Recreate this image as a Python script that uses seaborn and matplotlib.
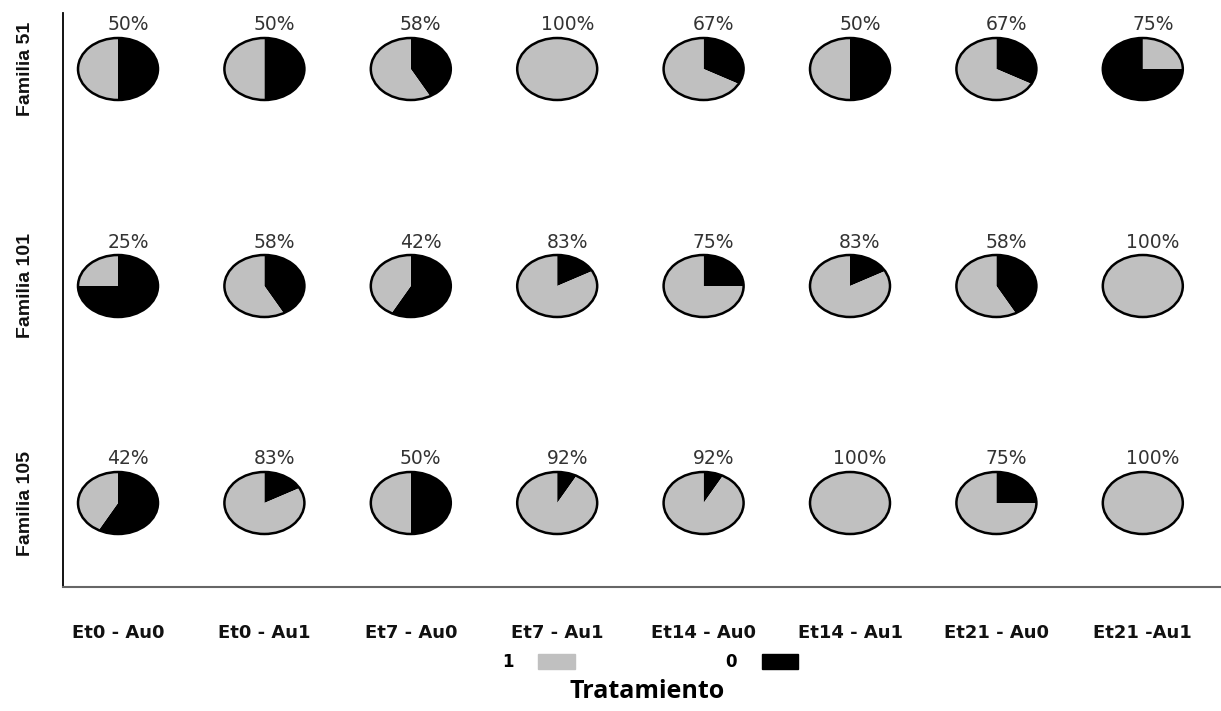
import numpy as np
import pandas as pd
import matplotlib
matplotlib.use("Agg")
import matplotlib.pyplot as plt
from matplotlib.patches import Wedge, Ellipse, Patch
from matplotlib.transforms import Affine2D
import seaborn as sns

# Datos del grafico
tratamientos = ["Et0 - Au0", "Et0 - Au1", "Et7 - Au0", "Et7 - Au1",
                "Et14 - Au0", "Et14 - Au1", "Et21 - Au0", "Et21 -Au1"]
familias = ["Familia 51", "Familia 101", "Familia 105"]
pct_familia_51 = [50, 50, 58, 100, 67, 50, 67, 75]
pct_familia_101 = [25, 58, 42, 83, 75, 83, 58, 100]
pct_familia_105 = [42, 83, 50, 92, 92, 100, 75, 100]
# celda en la que los colores salen invertidos en el original
colores_invertidos = [("Familia 51", "Et21 -Au1")]

df = pd.DataFrame({
    "Familia": np.repeat(familias, len(tratamientos)),
    "Tratamiento": tratamientos * len(familias),
    "Pct": pct_familia_51 + pct_familia_101 + pct_familia_105,
})

sns.set_style("white")
plt.rcParams['font.family'] = ['DejaVu Sans']
plt.rcParams['text.color'] = 'black'

GRIS = "#c0c0c0"
NEGRO = "#000000"

fig = plt.figure(figsize=(12.21, 7.11), dpi=100)
ax = fig.add_axes([63 / 1221, 1 - 587 / 711, 1 - 63 / 1221, (587 - 13) / 711])

# escalas: columnas separadas 146.4 px, filas 217 px
ux, uy = 146.4, 217.0
ax.set_xlim(-55 / ux, (1158 - 55) / ux)
ax.set_ylim(-84 / uy, (574 - 84) / uy)
sx, sy = 40 / ux, 31 / uy

fila_y = {f: len(familias) - 1 - i for i, f in enumerate(familias)}

for _, r in df.iterrows():
    cx = tratamientos.index(r["Tratamiento"])
    cy = fila_y[r["Familia"]]
    p = r["Pct"] / 100
    c0, c1 = NEGRO, GRIS
    if (r["Familia"], r["Tratamiento"]) in colores_invertidos:
        c0, c1 = GRIS, NEGRO
    tr = Affine2D().scale(sx, sy).translate(cx, cy) + ax.transData
    # primero la parte "0" en sentido horario desde las 12, luego la "1"
    if p < 1:
        ax.add_patch(Wedge((0, 0), 1, 90 - (1 - p) * 360, 90, facecolor=c0,
                           edgecolor="none", transform=tr))
    if p > 0:
        ax.add_patch(Wedge((0, 0), 1, 90, 90 + p * 360, facecolor=c1,
                           edgecolor="none", transform=tr))
    ax.add_patch(Ellipse((0, 0), 2, 2, facecolor="none", edgecolor="black",
                         lw=1.8, transform=tr))
    ax.text(cx + 10 / ux, cy + 44 / uy, f"{r['Pct']}%", ha="center", va="center",
            fontsize=13.5, color="#333333")

ax.set_xticks(range(len(tratamientos)))
ax.set_xticklabels(tratamientos, fontsize=13, fontweight="bold", color="#111111")
ax.tick_params(axis="x", length=0, pad=27)
ax.set_yticks([fila_y[f] for f in familias])
ax.set_yticklabels(familias, rotation=90, va="center", fontsize=14,
                   fontweight="bold", color="#111111",
                   family=["Liberation Sans", "DejaVu Sans"])
ax.tick_params(axis="y", length=0, pad=21)

sns.despine(ax=ax)
ax.spines["left"].set_color("black")
ax.spines["left"].set_linewidth(1.3)
ax.spines["bottom"].set_color("#666666")
ax.spines["bottom"].set_linewidth(1.5)

handles = [Patch(facecolor=GRIS, edgecolor=GRIS, label="1"),
           Patch(facecolor=NEGRO, edgecolor=NEGRO, label="0")]
fig.legend(handles=handles, loc="center", bbox_to_anchor=(650 / 1221, 1 - 662 / 711),
           ncol=2, frameon=False, markerfirst=False,
           prop={"weight": "bold", "size": 12}, handlelength=2.2, handleheight=1.0,
           handletextpad=1.5, columnspacing=9.0)

fig.text(647 / 1221, 1 - 691 / 711, "Tratamiento", ha="center", va="center",
         fontsize=18, fontweight="bold", family=["Open Sans", "DejaVu Sans"])

fig.savefig("out.png", dpi=100)
